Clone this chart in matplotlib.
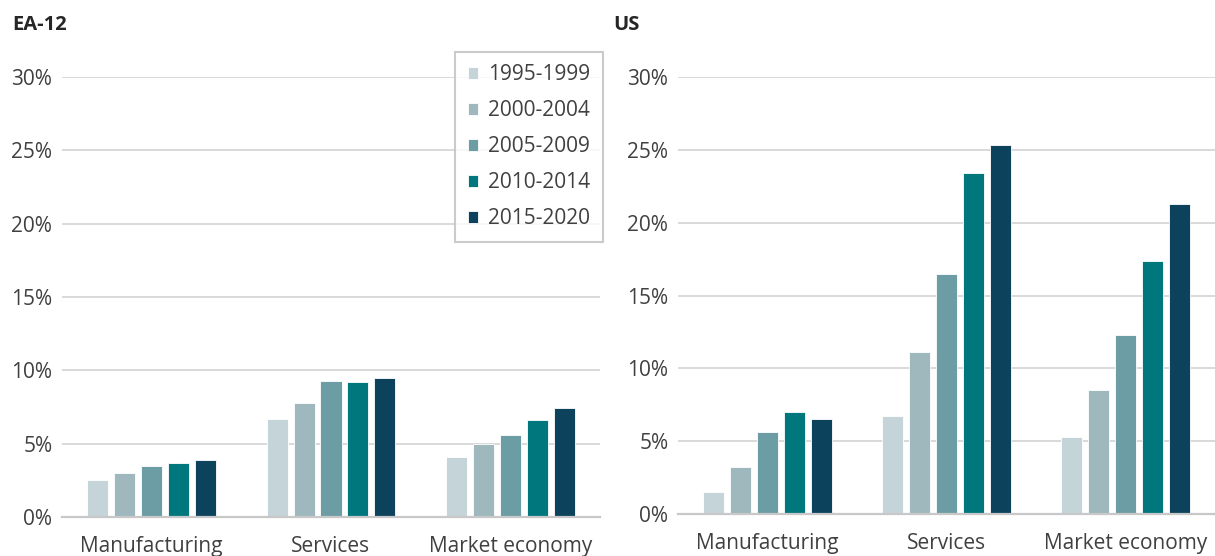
import numpy as np
import matplotlib
matplotlib.use("Agg")
import matplotlib.pyplot as plt
from matplotlib.ticker import FuncFormatter

# ---- data ----
sectors = ["Manufacturing", "Services", "Market economy"]
periods = ["1995-1999", "2000-2004", "2005-2009", "2010-2014", "2015-2020"]
colors = ["#C5D4D9", "#9EB8BE", "#6D9DA4", "#00777D", "#0C425C"]

# values per period, in sector order (%)
ea12_vals = {
    "1995-1999": [2.5, 6.7, 4.1],
    "2000-2004": [3.0, 7.8, 5.0],
    "2005-2009": [3.5, 9.3, 5.6],
    "2010-2014": [3.7, 9.2, 6.6],
    "2015-2020": [3.9, 9.5, 7.4],
}
us_vals = {
    "1995-1999": [1.5, 6.7, 5.3],
    "2000-2004": [3.2, 11.1, 8.5],
    "2005-2009": [5.6, 16.5, 12.3],
    "2010-2014": [7.0, 23.4, 17.4],
    "2015-2020": [6.5, 25.3, 21.3],
}

plt.rcParams["font.family"] = ["Open Sans", "DejaVu Sans"]
text_col = "#404040"
grid_col = "#D0D0D0"
fs = 15

fig = plt.figure(figsize=(12.15, 5.56), dpi=100)
ax1 = fig.add_axes([62 / 1215, 1 - 517 / 556, 538 / 1215, 440 / 556])
ax2 = fig.add_axes([678 / 1215, 1 - 514 / 556, 537 / 1215, 437 / 556])

x = np.arange(len(sectors))
slot = 0.15
bw = 0.118


def draw(ax, vals, title, tx):
    for i, p in enumerate(periods):
        ax.bar(x + (i - 2) * slot, vals[p], width=bw, color=colors[i],
               edgecolor="white", linewidth=0.6, label=p, zorder=3)
    ax.set_xlim(-0.5, 2.5)
    ax.set_ylim(0, 30)
    ax.set_yticks(range(0, 31, 5))
    ax.yaxis.set_major_formatter(FuncFormatter(lambda v, _: f"{v:.0f}%"))
    ax.grid(axis="y", color=grid_col, linewidth=1.1, zorder=0)
    for s in ["top", "right", "left"]:
        ax.spines[s].set_visible(False)
    ax.spines["bottom"].set_color("#C8C8C8")
    ax.spines["bottom"].set_linewidth(1.6)
    ax.spines["bottom"].set_zorder(4)
    ax.set_xticks(x)
    ax.set_xticklabels(sectors)
    ax.tick_params(axis="both", length=0, labelsize=fs, colors=text_col)
    ax.tick_params(axis="x", pad=14)
    ax.tick_params(axis="y", pad=7)
    fig.text(tx, 1 - 25 / 556, title, fontsize=14.5, fontweight="bold",
             color="#262626", va="center", ha="left")


draw(ax1, ea12_vals, "EA-12", 12 / 1215)
draw(ax2, us_vals, "US", 613 / 1215)

leg = ax1.legend(loc="upper right", bbox_to_anchor=(603 / 1215, 1 - 52 / 556),
                 bbox_transform=fig.transFigure, frameon=True, fancybox=False,
                 fontsize=fs, handlelength=0.5, handleheight=0.5,
                 handletextpad=0.5, labelspacing=0.72, borderpad=0.6,
                 borderaxespad=0)
leg.get_frame().set_edgecolor("#BFBFBF")
leg.get_frame().set_linewidth(1.5)
for t in leg.get_texts():
    t.set_color(text_col)

fig.savefig("out.png", dpi=100)
